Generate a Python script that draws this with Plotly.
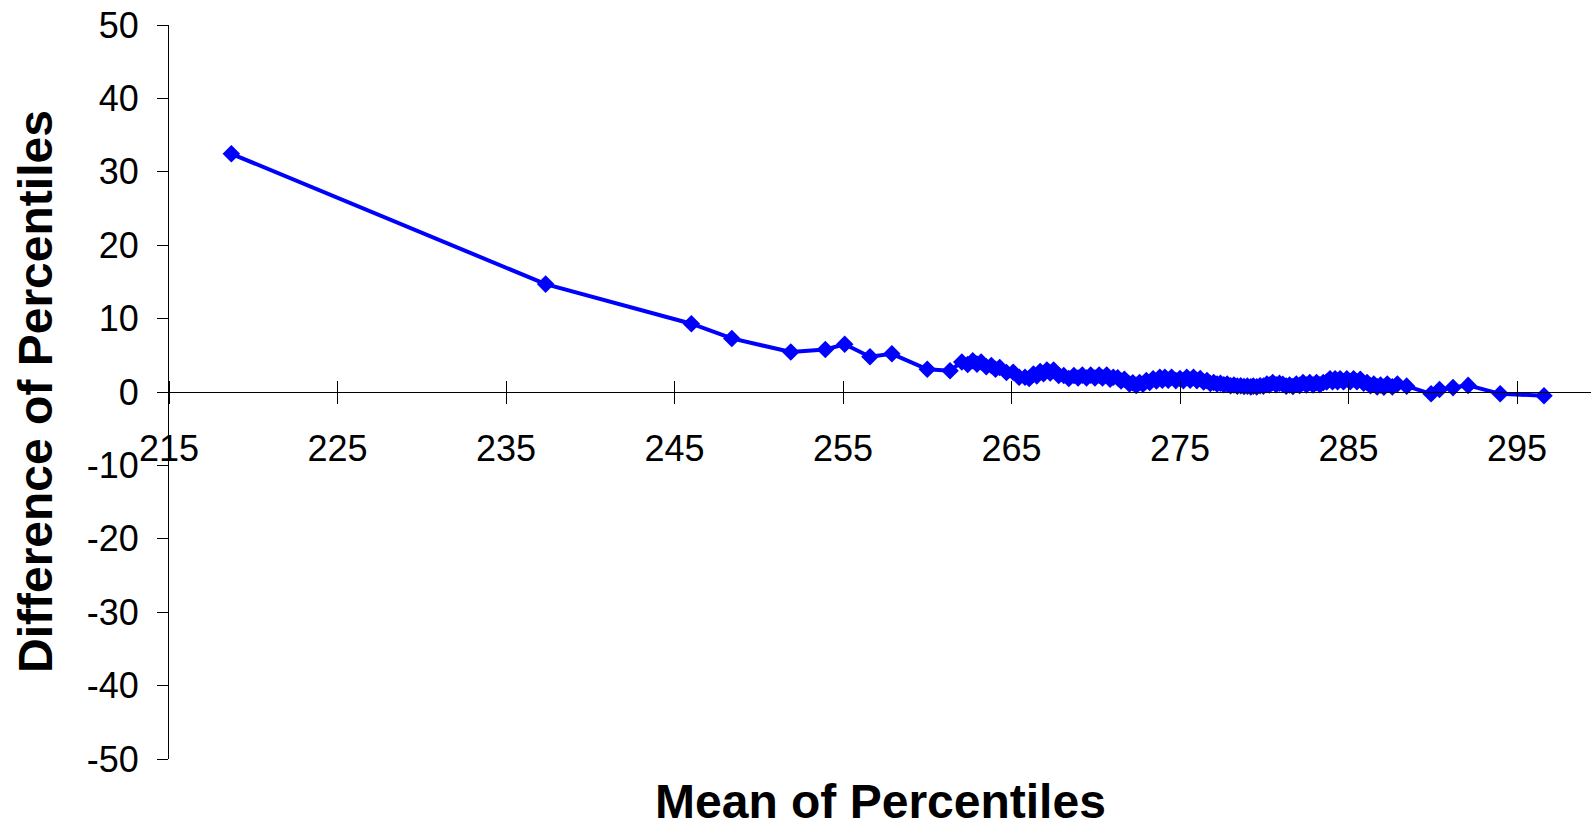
import plotly.graph_objects as go

mean_pct = [
    218.7, 237.35, 246.0, 248.4, 251.9, 253.95, 255.1, 256.6, 257.9, 260.0, 261.35,
    262.05, 262.4, 262.7, 262.95, 263.2, 263.5, 263.8, 264.05, 264.3, 264.7,
    265.1, 265.45, 265.8, 266.05, 266.3, 266.5, 266.7, 266.9, 267.1, 267.3,
    267.5, 267.8, 268.1, 268.4, 268.7, 268.95, 269.2, 269.45, 269.7, 269.95,
    270.2, 270.4, 270.65, 270.85, 271.04, 271.3, 271.5, 271.7, 272.0, 272.2,
    272.4, 272.6, 272.8, 273.0, 273.2, 273.4, 273.6, 273.8, 273.95, 274.1,
    274.3, 274.5, 274.75, 275.0, 275.2, 275.4, 275.6, 275.8, 276.0, 276.2,
    276.4, 276.6, 276.8, 277.0, 277.2, 277.4, 277.6, 277.8, 278.0, 278.2,
    278.4, 278.6, 278.8, 279.0, 279.2, 279.35, 279.55, 279.75, 279.95, 280.15,
    280.3, 280.5, 280.7, 280.9, 281.1, 281.3, 281.5, 281.7, 281.9, 282.1,
    282.3, 282.5, 282.7, 282.9, 283.1, 283.3, 283.5, 283.7, 283.9, 284.05,
    284.2, 284.35, 284.5, 284.7, 284.9, 285.1, 285.3, 285.5, 285.7, 285.9,
    286.1, 286.3, 286.5, 286.7, 286.9, 287.1, 287.3, 287.6, 287.9, 288.45,
    289.9, 290.4, 291.2, 292.1, 294.0, 296.6,
]
diff_pct = [
    32.45, 14.7, 9.3, 7.3, 5.45, 5.8, 6.5, 4.8, 5.2, 3.1, 2.9,
    4.1, 3.75, 4.25, 3.8, 4.1, 3.45, 3.6, 3.1, 3.35, 2.65,
    2.7, 2.0, 2.0, 1.85, 2.45, 2.2, 2.8, 2.5, 3.0, 2.6,
    3.0, 2.25, 2.25, 1.85, 2.25, 1.9, 2.3, 1.9, 2.3, 1.9,
    2.3, 1.9, 2.3, 1.75, 2.0, 1.95, 1.5, 1.75, 1.1, 1.25,
    0.9, 1.3, 1.05, 1.55, 1.3, 1.8, 1.5, 2.0, 1.6, 2.0,
    1.6, 2.0, 1.55, 1.85, 1.55, 2.0, 1.6, 2.0, 1.55, 1.85,
    1.35, 1.55, 1.15, 1.3, 1.1, 1.2, 1.0, 1.1, 0.85, 0.95,
    0.8, 0.85, 0.75, 0.8, 0.7, 0.8, 0.7, 0.85, 0.8, 1.1,
    0.95, 1.3, 1.0, 1.2, 1.05, 0.8, 0.95, 0.75, 1.1, 0.9,
    1.3, 0.95, 1.3, 0.95, 1.3, 1.0, 1.3, 1.35, 1.8, 1.4,
    1.8, 1.4, 1.8, 1.4, 1.8, 1.4, 1.8, 1.4, 1.75, 1.2,
    1.3, 0.85, 1.1, 0.7, 0.95, 0.65, 1.1, 0.7, 1.1, 0.8,
    -0.25, 0.35, 0.6, 0.9, -0.25, -0.5,
]

x_ticks = [215, 225, 235, 245, 255, 265, 275, 285, 295]
y_ticks = [-50, -40, -30, -20, -10, 0, 10, 20, 30, 40, 50]

x_range = [215, 299.39]
y_range = [-50, 50]

FONT = "Liberation Sans, Arial, sans-serif"
BLUE = "#0000FF"

fig = go.Figure()
fig.add_trace(go.Scatter(
    x=mean_pct, y=diff_pct, mode="lines+markers",
    line=dict(color=BLUE, width=4),
    marker=dict(symbol="diamond", size=13.5, color=BLUE),
    showlegend=False, hoverinfo="x+y",
))
# empty trace to activate the overlay axis used for upward tick halves
fig.add_trace(go.Scatter(x=[None], y=[None], xaxis="x2", yaxis="y",
                         showlegend=False, hoverinfo="skip"))

fig.update_layout(
    width=1593, height=827,
    margin=dict(l=169, r=2, t=25, b=68),
    paper_bgcolor="white", plot_bgcolor="white",
    font=dict(family=FONT, color="black"),
    xaxis=dict(
        range=x_range, tickvals=x_ticks, ticktext=[str(v) for v in x_ticks],
        anchor="free", position=0.5, automargin=False,
        showline=True, linecolor="black", linewidth=1,
        ticks="outside", ticklen=11, tickcolor="black", tickwidth=1,
        showgrid=False, zeroline=False,
        tickfont=dict(size=36, family=FONT, color="black"),
        ticklabelstandoff=14,
    ),
    xaxis2=dict(
        range=x_range, tickvals=x_ticks, overlaying="x",
        anchor="free", position=0.5, side="top", automargin=False,
        ticks="outside", ticklen=11, tickcolor="black", tickwidth=1,
        showticklabels=False, showline=False, showgrid=False, zeroline=False,
    ),
    yaxis=dict(
        range=y_range, tickvals=y_ticks, ticktext=[str(v) for v in y_ticks],
        automargin=False,
        showline=True, linecolor="black", linewidth=1,
        ticks="outside", ticklen=11, tickcolor="black", tickwidth=1,
        showgrid=False, zeroline=False,
        tickfont=dict(size=36, family=FONT, color="black"),
        ticklabelstandoff=11,
    ),
    annotations=[
        dict(text="<b>Mean of Percentiles</b>", xref="paper", yref="paper",
             x=0.5, y=0, xanchor="center", yanchor="middle", yshift=-42,
             showarrow=False, font=dict(size=48, family=FONT, color="black")),
        dict(text="<b>Difference of Percentiles</b>", xref="paper", yref="paper",
             x=0, y=0.5, xanchor="center", yanchor="middle", xshift=-134,
             textangle=-90, showarrow=False,
             font=dict(size=48, family=FONT, color="black")),
    ],
)

fig.write_html(
    "out.html",
    config={"displayModeBar": False},
    post_script="document.body.style.margin='0';document.body.style.overflow='hidden';",
)
